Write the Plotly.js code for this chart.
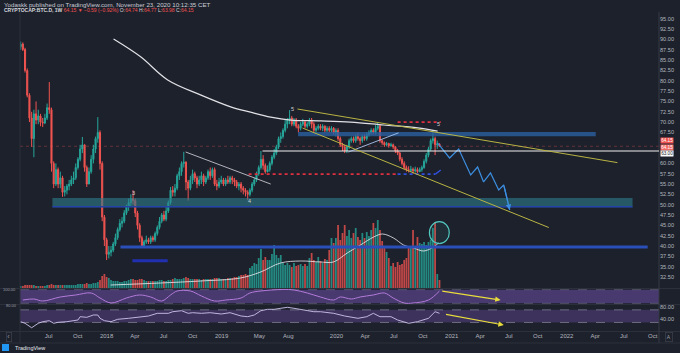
<!DOCTYPE html>
<html><head><meta charset="utf-8">
<script src="https://cdn.plot.ly/plotly-3.0.1.min.js"></script>
<style>html,body{margin:0;padding:0;background:#1d212c;overflow:hidden}#chart{width:680px;height:353px}</style>
</head><body><div id="chart"></div>
<script>
// ---- weekly candles, CRYPTOCAP:BTC.D, starting week 2017-04-03 ----
const firstWeek = [2017, 3, 3];
const firstOpen = 88.2;
const closes = [
88.9,87.6,82.5,76.5,71.0,66.0,72.0,70.5,71.5,70.0,
69.8,71.0,73.5,73.0,60.0,55.0,58.5,55.0,56.5,53.0,
53.5,54.5,55.0,56.0,56.5,59.0,61.0,63.5,64.5,59.0,
55.0,58.0,61.0,63.5,66.0,67.5,60.0,47.0,41.5,38.0,
38.5,39.0,40.5,42.0,44.0,45.5,46.0,48.0,49.5,50.5,
51.5,51.0,48.0,45.0,42.0,40.0,41.0,41.5,41.0,42.0,
41.5,43.0,44.5,46.0,47.5,46.5,48.5,50.5,53.5,53.0,
54.0,57.0,58.0,60.0,60.3,55.5,54.0,56.0,57.5,56.5,
55.0,56.0,57.0,55.5,56.5,58.0,57.0,58.5,55.0,54.5,
55.5,56.0,55.0,56.0,55.5,56.5,56.0,55.5,54.5,55.0,
54.0,53.5,53.0,52.5,53.5,55.0,56.0,57.5,59.0,61.0,
59.5,58.0,58.5,60.0,61.5,62.5,64.0,66.0,66.5,68.0,
69.5,70.5,71.0,69.5,70.5,69.0,68.5,69.5,70.0,69.0,
69.5,70.5,69.5,68.0,68.5,69.0,68.5,69.0,68.0,68.5,
68.0,68.5,67.5,68.0,66.0,64.5,64.0,63.0,64.0,65.5,
66.0,65.5,66.5,66.0,65.5,66.5,66.0,67.0,67.5,68.0,
67.5,68.5,69.0,65.5,65.0,64.5,64.8,64.3,64.5,64.0,
63.0,62.5,61.0,60.0,59.0,58.5,58.3,58.6,58.2,58.5,
58.0,58.5,59.0,60.5,62.0,63.5,65.5,66.0,64.5,64.74,
64.15];
const highs = [
89.5,89.3,88.0,83.0,77.0,72.5,73.0,75.0,73.0,72.0,
71.0,72.0,74.5,79.7,73.5,60.5,60.0,59.0,58.0,57.0,
54.5,55.0,56.0,57.0,58.0,60.0,61.5,64.5,66.4,64.5,
59.5,59.0,62.0,64.5,66.5,71.2,68.0,60.5,47.5,42.0,
40.0,40.0,41.0,43.0,44.5,46.5,47.0,48.7,50.0,51.5,
52.5,53.5,51.5,48.5,45.5,42.5,41.5,42.5,42.0,42.5,
42.5,43.5,45.0,47.0,48.0,48.5,49.5,51.0,54.3,54.5,
55.0,57.5,59.0,60.5,62.8,60.5,56.0,57.0,58.5,58.0,
57.0,57.0,58.0,57.5,57.0,58.5,59.0,59.0,59.0,56.0,
56.5,57.0,56.5,56.5,57.0,57.0,57.0,56.5,56.0,55.5,
55.5,54.5,54.0,53.5,54.0,55.5,56.5,58.0,59.5,63.0,
62.0,60.0,59.5,60.5,62.0,63.5,64.5,66.5,67.5,68.5,
70.5,71.0,72.9,71.5,71.0,71.0,69.5,70.0,70.8,70.5,
70.0,71.0,71.0,70.0,69.0,69.5,69.5,69.5,69.2,69.0,
69.0,69.0,68.8,68.5,68.5,66.5,65.0,64.5,64.5,66.0,
66.5,66.5,67.0,67.4,66.5,67.0,67.0,67.5,68.0,68.5,
68.5,69.3,70.0,69.5,65.8,65.3,65.2,65.0,65.0,64.8,
64.2,63.5,62.8,61.5,60.5,59.5,59.3,59.4,59.0,59.2,
59.0,59.0,59.5,61.0,62.5,64.0,66.0,68.0,66.5,65.5,
64.77];
const lows = [
87.5,87.2,82.0,76.0,70.0,64.0,61.5,69.5,69.5,69.0,
68.8,69.5,70.5,72.0,58.0,54.0,54.5,54.0,54.0,51.9,
52.0,52.5,53.5,54.5,55.0,56.0,58.5,60.5,62.5,58.0,
54.3,55.0,57.5,60.0,62.5,65.0,58.5,46.0,40.0,36.6,
37.0,37.5,38.5,40.0,41.5,43.5,44.5,45.5,47.5,48.5,
49.5,50.0,47.0,44.0,41.0,39.8,39.8,40.5,40.5,40.5,
41.0,41.0,42.5,44.0,45.5,46.0,46.0,48.0,50.0,52.0,
52.0,53.5,56.0,57.0,59.0,53.5,51.0,53.5,55.0,55.5,
54.0,54.5,55.0,54.5,55.0,56.0,56.0,56.5,54.5,53.5,
54.0,55.0,54.5,54.5,55.0,55.0,55.0,54.5,54.0,53.5,
53.0,52.5,52.0,51.1,52.0,53.0,54.5,55.5,57.0,58.5,
58.5,57.5,57.8,58.0,59.5,61.0,62.0,63.5,65.0,66.0,
67.5,68.5,69.5,69.0,69.0,68.5,67.5,68.0,69.0,68.5,
68.5,69.0,68.5,67.5,67.5,68.0,68.0,67.8,67.5,67.6,
67.5,67.5,67.0,66.5,65.5,64.0,63.0,62.5,62.5,63.5,
65.0,65.0,65.0,65.5,64.5,65.0,65.5,65.5,66.5,67.0,
67.0,67.0,68.0,65.0,64.5,64.0,64.2,63.8,64.0,63.5,
62.5,62.0,60.5,59.5,58.5,58.0,57.8,57.9,57.5,57.8,
57.6,57.9,58.0,58.7,60.0,61.5,63.0,64.8,62.0,63.5,
63.98];
// volume (relative height units)
const volumes = [
2,2,3,3,3,3,3,2,2,2, 2,2,3,3,4,3,3,3,3,3, 3,3,3,3,3,3,4,4,4,4, 5,4,4,5,5,6,
8,12,14,11,10,
8,7,7,7,6,6,7,7,8,9, 9,8,8,9,9,8,7,7,7,7, 7,7,8,8,7,7,8,8,9,10, 9,9,9,10,11,10,9,9,9,9, 9,8,9,9,9,9,9,10,10,10, 9,9,9,10,10,10,11,11,12,
13,13,14,13,20,22,25,24,
30,39,28,31,28,28,34,43,33,30, 33,25,23,25,23,21,25,22,23,24, 22,24,22,30,35,28,26,31,27,25,
29,28,38,50,45,50,63,48,55,63, 52,58,50,55,60,51,48,55,50,56, 52,58,65,60,68,58,47,41,36,30,
22,25,21,26,23,24,28,30,40,42, 58,40,51,45,44,46,43,46,48,60, 66,14,8];

// long moving average (white curve)
const maDates = ['2018-01-23','2018-04-19','2018-07-14','2018-10-26','2019-01-30','2019-04-03','2019-06-06','2019-08-08','2019-11-12','2020-02-15','2020-05-30','2020-09-15','2020-11-17'];
const maVals  = [90.1,85.8,80.2,76.6,73.7,72.4,71.2,70.5,70.3,70.0,69.3,68.6,67.8];
// volume moving average
const vmaDates = ['2018-01-14','2018-06-21','2018-10-26','2019-03-02','2019-05-05','2019-07-07','2019-09-09','2019-11-11','2019-12-22','2020-02-04','2020-03-17','2020-04-28','2020-05-26','2020-06-30','2020-08-01','2020-09-02','2020-10-04','2020-11-04','2020-11-20'];
const vmaVals  = [3,5,7,10,16,25,27,26,26,35,43,51,54,50,43,40,37,41,45];
// oscillator pane (stoch-like), by week index
const stochIdx = [1,6,10,18,25,32,36,41,48,54,59,64,68,71,77,82,88,93,100,104,109,119,124,130,136,142,145,150,154,160,165,169,174,178,185,190];
const stochVal = [34.6,39,30.2,47.8,56.6,65.4,43.4,21.4,43.4,56.6,47.8,30.2,56.6,74.2,74.2,52.2,30.2,34.6,43.4,65.4,74.2,81,78.6,65.4,47.8,34.6,47.8,39,47.8,56.6,65.4,43.4,21.4,21.4,34.6,74.2];
// RSI pane, by week index
const rsiIdx = [0,2,5,8,10,13,15,17,21,26,27,30,33,35,36,38,41,44,49,53,58,62,67,69,73,76,78,82,86,91,95,100,103,106,109,112,115,118,121,124,127,130,133,136,142,147,153,157,160,163,168,171,176,180,185,188,190];
const rsiVal = [32.4,27.3,13.3,27.3,32.4,35.6,27.3,30.5,32.4,37.8,48.3,46.3,53.7,53.7,43.2,35.6,32.4,40,43.2,46.3,50.5,59,59,64.1,67.3,59,61,59,61,56.8,61,50.5,48.3,53.7,67.3,71.7,71.7,74.9,78.1,74.9,71.7,69.5,64.1,64.1,59,50.5,43.2,48.3,59,48.3,48.3,37.8,27.3,32.4,43.2,64.1,59];
// projected zig-zag (blue)
const zzDates = ['2020-11-17','2020-12-25','2021-01-23','2021-03-02','2021-03-24','2021-04-12','2021-05-04','2021-05-30','2021-06-15','2021-07-04'];
const zzVals  = [64.94,61.31,63.49,57.19,59.13,55.50,57.68,53.56,54.77,48.72];
// axis ticks (65.00 and 62.50 are hidden behind the price labels)
const priceTicks = [32.5,35,37.5,40,42.5,45,47.5,50,52.5,55,57.5,60,67.5,70,72.5,75,77.5,80,82.5,85,87.5,90,92.5,95];
const priceTickText = ['32.50','35.00','37.50','40.00','42.50','45.00','47.50','50.00','52.50','55.00','57.50','60.00','67.50','70.00','72.50','75.00','77.50','80.00','82.50','85.00','87.50','90.00','92.50','95.00'];
const timeTickVals = ['2017-07-01','2017-10-01','2018-01-01','2018-04-01','2018-07-01','2018-10-01','2019-01-01','2019-05-01','2019-08-01','2020-01-01','2020-04-01','2020-07-01','2020-10-01','2021-01-01','2021-04-01','2021-07-01','2021-10-01','2022-01-01','2022-04-01','2022-07-01','2022-10-01'];
const timeTickText = ['Jul','Oct','2018','Apr','Jul','Oct','2019','May','Aug','2020','Apr','Jul','Oct','2021','Apr','Jul','Oct','2022','Apr','Jul','Oct'];

// ---- build ----
const DAY = 86400000;
function wk(i){ return new Date(Date.UTC(firstWeek[0],firstWeek[1],firstWeek[2]) + i*7*DAY).toISOString().slice(0,10); }
const n = Math.min(closes.length, highs.length, lows.length);
const dates=[], opens=[], hi=[], lo=[], cl=[];
for(let i=0;i<n;i++){
  const o = i===0 ? firstOpen : closes[i-1];
  const c = closes[i];
  dates.push(wk(i)); opens.push(o); cl.push(c);
  hi.push(Math.max(highs[i],o,c)); lo.push(Math.min(lows[i],o,c));
}
const vn = Math.min(n, volumes.length);
const vColors = [];
for(let i=0;i<vn;i++) vColors.push(cl[i]>=opens[i] ? 'rgba(38,166,154,0.78)' : 'rgba(239,83,80,0.78)');

const traces = [
 {type:'bar', x:dates.slice(0,vn), y:volumes.slice(0,vn), xaxis:'x', yaxis:'y4', marker:{color:vColors, line:{width:0}}, width:5.6*DAY, hoverinfo:'skip'},
 {type:'scatter', mode:'lines', x:vmaDates, y:vmaVals, xaxis:'x', yaxis:'y4', line:{color:'rgba(235,235,240,0.9)', width:0.9, shape:'spline'}, hoverinfo:'skip'},
 {type:'candlestick', x:dates, open:opens, high:hi, low:lo, close:cl, xaxis:'x', yaxis:'y',
  increasing:{line:{color:'#26a69a',width:1}, fillcolor:'#26a69a'},
  decreasing:{line:{color:'#ef5350',width:1}, fillcolor:'#ef5350'}, whiskerwidth:0, hoverinfo:'skip'},
 {type:'scatter', mode:'lines', x:maDates, y:maVals, xaxis:'x', yaxis:'y', line:{color:'#e2e2e6', width:1.2, shape:'spline'}, hoverinfo:'skip'},
 {type:'scatter', mode:'lines', x:zzDates, y:zzVals, xaxis:'x', yaxis:'y', line:{color:'#3b8ee0', width:1.2}, hoverinfo:'skip'},
 {type:'scatter', mode:'lines', x:stochIdx.map(wk), y:stochVal, xaxis:'x', yaxis:'y2', line:{color:'#b27bd9', width:1, shape:'spline', smoothing:1}, hoverinfo:'skip'},
 {type:'scatter', mode:'lines', x:rsiIdx.map(wk), y:rsiVal, xaxis:'x', yaxis:'y3', line:{color:'#cfc3ec', width:0.9}, hoverinfo:'skip'}
];

function hline(y0,x0,x1,color,width,dash,yref){return {type:'line',xref:'x',yref:yref||'y',x0:x0,x1:x1,y0:y0,y1:y0,line:{color:color,width:width,dash:dash||'solid'},layer:'above'};}
function pline(py,color){const yp=(331-py)/319;return {type:'line',xref:'paper',yref:'paper',x0:-0.0313,x1:1.0329,y0:yp,y1:yp,line:{color:color,width:1},layer:'above'};}
const END='2022-10-25';
const shapes = [
 {type:'rect',xref:'paper',yref:'y2',x0:0,x1:1,y0:20,y1:80,fillcolor:'rgba(126,87,194,0.45)',line:{width:0},layer:'below'},
 {type:'line',xref:'paper',yref:'y2',x0:0,x1:1,y0:80,y1:80,line:{color:'rgba(150,150,165,0.5)',width:0.8,dash:'dash'},layer:'below'},
 {type:'line',xref:'paper',yref:'y2',x0:0,x1:1,y0:20,y1:20,line:{color:'rgba(150,150,165,0.5)',width:0.8,dash:'dash'},layer:'below'},
 {type:'rect',xref:'paper',yref:'y3',x0:0,x1:1,y0:30,y1:70,fillcolor:'rgba(126,87,194,0.32)',line:{width:0},layer:'below'},
 {type:'line',xref:'paper',yref:'y3',x0:0,x1:1,y0:70,y1:70,line:{color:'rgba(170,170,185,0.65)',width:0.8,dash:'dash'},layer:'below'},
 {type:'line',xref:'paper',yref:'y3',x0:0,x1:1,y0:30,y1:30,line:{color:'rgba(170,170,185,0.65)',width:0.8,dash:'dash'},layer:'below'},
 pline(288.5,'#2c303b'), pline(304.5,'#2c303b'), pline(331.5,'#2c303b'), pline(343,'#2c303b'),
 {type:'line',xref:'paper',yref:'paper',x0:0,x1:0,y0:-0.0376,y1:1.0,line:{color:'#2c303b',width:1},layer:'above'},
 {type:'line',xref:'paper',yref:'paper',x0:1,x1:1,y0:-0.0376,y1:1.0,line:{color:'#363a45',width:1},layer:'above'},
 {type:'line',xref:'paper',yref:'y',x0:0,x1:1,y0:64.15,y1:64.15,line:{color:'rgba(239,83,80,0.35)',width:1,dash:'dot'},layer:'below'},
 {type:'rect',xref:'x',yref:'y',x0:'2017-07-13',x1:'2022-07-29',y0:49.4,y1:51.6,fillcolor:'rgba(45,125,140,0.6)',line:{width:0},layer:'above'},
 hline(49.5,'2017-07-13','2022-07-29','#2442a8',1.6),
 hline(39.75,'2018-02-14','2022-09-15','#2a4fb8',3),
 hline(36.4,'2018-03-24','2018-07-14','#2130b0',3),
 {type:'rect',xref:'x',yref:'y',x0:'2019-09-01',x1:'2022-04-03',y0:66.6,y1:67.6,fillcolor:'rgba(44,96,160,0.8)',line:{width:0},layer:'above'},
 hline(63.0,'2019-05-11',END,'#f0f0f0',1.1),
 hline(57.4,'2019-03-28','2020-07-13','#e0303f',1.6,'dot'),
 hline(57.4,'2020-07-13','2020-11-10','#3050e0',1.6,'dot'),
 {type:'line',xref:'x',yref:'y',x0:'2020-11-10',x1:'2020-11-27',y0:57.4,y1:58.4,line:{color:'#3050e0',width:1.4},layer:'above'},
 hline(70.0,'2020-07-13','2020-11-27','#e0303f',1.6,'dot'),
 {type:'line',xref:'x',yref:'y',x0:'2018-09-09',x1:'2019-06-06',y0:62.76,y1:55.0,line:{color:'#c4c4cc',width:0.9},layer:'above'},
 {type:'line',xref:'x',yref:'y',x0:'2020-02-08',x1:'2020-07-16',y0:62.76,y1:67.4,line:{color:'#a9c4ea',width:0.9},layer:'above'},
 {type:'line',xref:'x',yref:'y',x0:'2019-08-30',x1:'2022-06-11',y0:73.17,y1:60.19,line:{color:'#b9b443',width:1},layer:'above'},
 {type:'line',xref:'x',yref:'y',x0:'2019-09-15',x1:'2021-11-05',y0:68.57,y1:44.48,line:{color:'#b9b443',width:1},layer:'above'},
 {type:'circle',xref:'x',yref:'y',x0:'2020-10-22',x1:'2020-12-24',y0:40.56,y1:45.88,line:{color:'#52c9c0',width:1.2},fillcolor:'rgba(82,201,192,0.08)',layer:'above'},
 {type:'rect',xref:'paper',yref:'paper',x0:-0.0282,x1:-0.0172,y0:-0.0627,y1:-0.0408,fillcolor:'#2196f3',line:{width:0}}
];

const px = v=>(v-20)/639, py = v=>(331-v)/319;
const RED='#ef5350';
const annotations = [
 {xref:'paper',yref:'paper',x:px(2),y:py(4),xanchor:'left',yanchor:'middle',showarrow:false,text:'Yodaskk published on TradingView.com, November 23, 2020 10:12:35 CET',font:{size:6.2,color:'#c9ccd4'}},
 {xref:'paper',yref:'paper',x:px(2),y:py(10.5),xanchor:'left',yanchor:'middle',showarrow:false,
  text:'<b>CRYPTOCAP:BTC.D, 1W</b> <span style="color:'+RED+'">64.15 ▼ −0.59 (−0.92%)</span> O:<span style="color:'+RED+'">64.74</span> H:<span style="color:'+RED+'">64.77</span> L:<span style="color:'+RED+'">63.98</span> C:<span style="color:'+RED+'">64.15</span>',font:{size:5,color:'#d6d8de'}},
 {xref:'x',yref:'y',x:'2018-03-27',y:52.8,showarrow:false,text:'3',font:{size:5.5,color:'#d0d0d6'}},
 {xref:'x',yref:'y',x:'2019-03-31',y:50.9,showarrow:false,text:'4',font:{size:5.5,color:'#d0d0d6'}},
 {xref:'x',yref:'y',x:'2019-08-14',y:73.2,showarrow:false,text:'5',font:{size:5.5,color:'#d0d0d6'}},
 {xref:'x',yref:'y',x:'2020-11-20',y:69.6,showarrow:false,text:'5',font:{size:5.5,color:'#d0d0d6'}},
 // right price labels (stacked)
 {xref:'paper',yref:'paper',x:px(660),y:py(140.5),xanchor:'left',yanchor:'middle',showarrow:false,text:'64.15',bgcolor:RED,borderpad:0.2,font:{size:4.6,color:'#ffffff'}},
 {xref:'paper',yref:'paper',x:px(660),y:py(147),xanchor:'left',yanchor:'middle',showarrow:false,text:'64.15',bgcolor:'#f06a66',borderpad:0.2,font:{size:4.6,color:'#ffffff'}},
 {xref:'paper',yref:'paper',x:px(660),y:py(153.5),xanchor:'left',yanchor:'middle',showarrow:false,text:'63.00',bgcolor:'#ffffff',borderpad:0.2,font:{size:4.6,color:'#131722'}},
 {xref:'x',yref:'y2',axref:'x',ayref:'y2',x:'2021-06-05',y:34.6,ax:'2020-11-27',ay:74.2,showarrow:true,arrowhead:2,arrowsize:0.9,arrowwidth:1.2,arrowcolor:'#e8dc3c',text:''},
 {xref:'x',yref:'y3',axref:'x',ayref:'y3',x:'2021-06-15',y:21.9,ax:'2020-12-09',ay:56.8,showarrow:true,arrowhead:2,arrowsize:0.9,arrowwidth:1.2,arrowcolor:'#e8dc3c',text:''},
 {xref:'x',yref:'y',axref:'x',ayref:'y',x:'2021-07-04',y:48.72,ax:'2021-06-15',ay:54.77,showarrow:true,arrowhead:2,arrowsize:0.9,arrowwidth:1.2,arrowcolor:'#3b8ee0',text:''},
 {xref:'paper',yref:'paper',x:px(1),y:py(289),xanchor:'left',yanchor:'middle',showarrow:false,text:'100.00',font:{size:4,color:'#9a9da6'}},
 {xref:'paper',yref:'paper',x:px(4),y:py(305),xanchor:'left',yanchor:'middle',showarrow:false,text:'80.00',font:{size:4,color:'#9a9da6'}},
 {xref:'paper',yref:'paper',x:px(13),y:py(348),xanchor:'left',yanchor:'middle',showarrow:false,text:'TradingView',font:{size:5.5,color:'#e8e8ec'}},
 {xref:'paper',yref:'paper',x:px(9),y:py(337),xanchor:'center',yanchor:'middle',showarrow:false,text:'‹',font:{size:7,color:'#9a9da6'},bordercolor:'#3a3e49',borderwidth:0.8,borderpad:0.5},
 {xref:'paper',yref:'paper',x:px(669),y:py(337),xanchor:'center',yanchor:'middle',showarrow:false,text:'A',font:{size:5,color:'#9a9da6'},bordercolor:'#3a3e49',borderwidth:0.8,borderpad:1}
];

const layout = {
 width:680, height:353,
 paper_bgcolor:'#1d212c', plot_bgcolor:'#1d212c',
 margin:{l:20,r:21,t:12,b:22,pad:0},
 showlegend:false, hovermode:false, dragmode:false,
 font:{family:'Liberation Sans, Arial, sans-serif', color:'#b2b5be', size:6},
 xaxis:{type:'date', range:['2017-04-01','2022-10-21'], anchor:'y3', tickmode:'array', tickvals:timeTickVals, ticktext:timeTickText,
        ticks:'', showgrid:false, zeroline:false, showline:false, rangeslider:{visible:false}, tickfont:{size:6,color:'#b2b5be'}, fixedrange:true},
 yaxis:{domain:[0.1348,1], range:[29.83,96.66], side:'right', anchor:'x', tickmode:'array', tickvals:priceTicks, ticktext:priceTickText,
        ticks:'', showgrid:false, zeroline:false, showline:false, tickfont:{size:5.6,color:'#b2b5be'}, fixedrange:true},
 yaxis2:{domain:[0.0846,0.1317], range:[17,83], anchor:'x', showticklabels:false, showgrid:false, zeroline:false, fixedrange:true},
 yaxis3:{domain:[0,0.0815], range:[2.9,85.4], side:'right', anchor:'x', tickmode:'array', tickvals:[40,80], ticktext:['40.00','80.00'],
        ticks:'', showgrid:false, zeroline:false, tickfont:{size:5.6,color:'#b2b5be'}, fixedrange:true},
 yaxis4:{overlaying:'y', range:[0,276], anchor:'x', visible:false, fixedrange:true},
 shapes:shapes, annotations:annotations
};
Plotly.newPlot('chart', traces, layout, {staticPlot:true, displayModeBar:false});
</script></body></html>
